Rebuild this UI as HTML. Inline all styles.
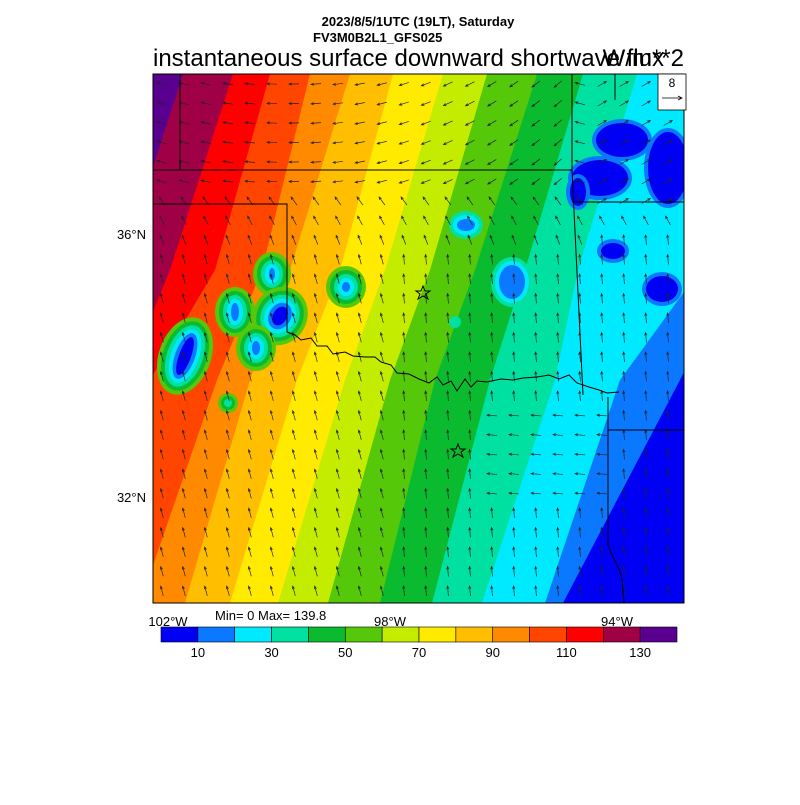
<!DOCTYPE html>
<html><head><meta charset="utf-8"><style>
body{margin:0;background:#fff;width:800px;height:800px;overflow:hidden;font-family:"Liberation Sans",sans-serif}
</style></head><body>
<svg id="s" width="800" height="800" xmlns="http://www.w3.org/2000/svg" font-family="Liberation Sans, sans-serif">
<defs><clipPath id="c"><rect x="153" y="74" width="531" height="529"/></clipPath></defs>
<g id="field" clip-path="url(#c)"></g>
<g id="arr" clip-path="url(#c)" stroke="#222" stroke-width="0.7" fill="none"></g>
<g clip-path="url(#c)" stroke="#000" stroke-width="1" fill="none">
<path d="M180,74 V170"/>
<path d="M153,170 H572"/>
<path d="M153,204 H287 V332"/>
<path d="M287,332 l8,3 l6,5 l10,-2 l6,8 l10,0 l6,8 l12,-2 l8,4 l12,1 l10,0 l6,5 l10,3 l6,8 l12,1 l10,5 l10,4 l8,-6 l6,8 l8,-4 l6,10 l8,-12 l6,8 l6,-6 l10,1 l14,-3 l12,1 l10,-2 l14,-1 l12,-2 l10,4 l10,-4 l8,8 l12,4 l10,3 l8,3 l12,-1"/>
<path d="M572,74 V170 L583,395"/>
<path d="M608,397 V545 l4,10 l6,12 l4,12 l2,24"/>
<path d="M608,430 H684"/>
<path d="M572,202 H684"/>
<path d="M615,74 V100"/>
</g>
<rect x="153" y="74" width="531" height="529" fill="none" stroke="#000" stroke-width="1"/>
<rect x="658" y="74" width="28" height="36" fill="#fff" stroke="#000" stroke-width="0.8"/>
<text x="672" y="87" font-size="12" text-anchor="middle">8</text>
<path d="M662,98 H682 M678,96 L682,98 L678,100" stroke="#000" stroke-width="0.8" fill="none"/>
<g fill="none" stroke="#000" stroke-width="1">
<polygon points="423,286 425,291 430,291 426,294 428,299 423,296 418,299 420,294 416,291 421,291"/>
<polygon points="458,444 460,449 465,449 461,452 463,457 458,454 453,457 455,452 451,449 456,449"/>
</g>
<text x="418" y="26" font-size="13" font-weight="bold" text-anchor="middle">2023/8/5/1UTC (19LT), Saturday</text>
<text x="313" y="42" font-size="13" font-weight="bold">FV3M0B2L1_GFS025</text>
<text x="153" y="66" font-size="24">instantaneous surface downward shortwave flux</text>
<text x="684" y="66" font-size="24" text-anchor="end">W/m**2</text>
<text x="146" y="239" font-size="13" text-anchor="end">36°N</text>
<text x="146" y="502" font-size="13" text-anchor="end">32°N</text>
<text x="168" y="626" font-size="13" text-anchor="middle">102°W</text>
<text x="390" y="626" font-size="13" text-anchor="middle">98°W</text>
<text x="617" y="626" font-size="13" text-anchor="middle">94°W</text>
<text x="215" y="620" font-size="13">Min= 0 Max= 139.8</text>
<g id="cb"></g>
</svg>
<script>
var cols=["#0000f5","#0a78ff","#00eaff","#00e0a0","#0abb30","#55c80a","#c4ec00","#ffea00","#ffbf00","#ff8a00","#ff4500","#ff0000","#a00045","#5a0090"];
var NS="http://www.w3.org/2000/svg";
function el(t,a,p){var e=document.createElementNS(NS,t);for(var k in a)e.setAttribute(k,a[k]);p.appendChild(e);return e;}
var f=document.getElementById('field');
var Y=[74,270,380,603];
var B={1:[800,735,680,563],2:[760,700,620,545],3:[637,578,555,482],4:[583,525,490,432],5:[537,475,435,380],6:[487,430,390,328],7:[443,385,345,278],8:[393,340,297,230],9:[350,290,250,185],10:[310,262,217,140],11:[270,215,150,60],12:[233,170,125,50],13:[183,120,60,0]};
el('rect',{x:153,y:74,width:531,height:529,fill:cols[0]},f);
for(var i=1;i<14;i++){var b=B[i];var p="-400,603 -400,74";
 for(var j=0;j<4;j++)p+=" "+b[j]+","+Y[j];
 el('polygon',{points:p,fill:cols[i]},f);}
var blobs=[[185,356,6,20,20,0,5,4],[235,312,4,9,0,1,5,4],[272,274,3,6,0,1,5,4],[280,316,7,10,30,0,5,4],[256,348,4,7,0,1,5,4],[228,403,4,4,0,3,5,3],[346,287,4,5,0,1,5,4],
[466,225,9,6,0,1,3,4],[512,282,13,17,0,1,3,4],[455,322,6,6,0,3,3,3],
[600,178,28,18,0,0,1,4],[622,140,26,17,0,0,1,4],[668,168,20,36,0,0,1,4],[578,192,8,14,0,0,1,4],[613,251,12,8,0,0,1,4],[662,289,16,13,0,0,1,4]];
blobs.forEach(function(q){var g=el('g',{transform:"rotate("+q[4]+" "+q[0]+" "+q[1]+")"},f);
 for(var k=q[6];k>=q[5];k--){var pad=(k-q[5])*q[7]; el('ellipse',{cx:q[0],cy:q[1],rx:q[2]+pad,ry:q[3]+pad,fill:cols[k]},g);}
});
var a=document.getElementById('arr');
for(var y=84;y<603;y+=19.5){for(var x=162;x<684;x+=22){
 var t=(y-74)/529; var ang;
 if(t<0.22) ang=200-(x-153)/531*80+ (x>560?60:0);
 else if(t<0.35) ang=230+(t-0.22)*200;
 else ang=265-(x<400?10:0);
 if(t>0.62&&t<0.82&&x>480&&x<620) ang=185;
 if(t>0.3&&t<0.62&&x>590) ang=265;
 if(t<0.25&&x>580) ang=330;
 var r=ang*Math.PI/180,L=10;
 var dx=Math.cos(r)*L, dy=Math.sin(r)*L;
 var x1=x-dx/2,y1=y-dy/2,x2=x+dx/2,y2=y+dy/2;
 var h1=r+Math.PI-0.4,h2=r+Math.PI+0.4;
 el('path',{d:"M"+x1+","+y1+"L"+x2+","+y2+"M"+(x2+Math.cos(h1)*3)+","+(y2+Math.sin(h1)*3)+"L"+x2+","+y2+"L"+(x2+Math.cos(h2)*3)+","+(y2+Math.sin(h2)*3)},a);
}}
var cb=document.getElementById('cb');var w=516/14;
for(var i=0;i<14;i++){el('rect',{x:161+i*w,y:627,width:w,height:15,fill:cols[i],stroke:"#000","stroke-width":0.6},cb);}
for(var i=1;i<14;i+=2){var t=el('text',{x:161+i*w,y:657,"font-size":13,"text-anchor":"middle"},cb);t.textContent=(i*10);}
</script>
</body></html>
